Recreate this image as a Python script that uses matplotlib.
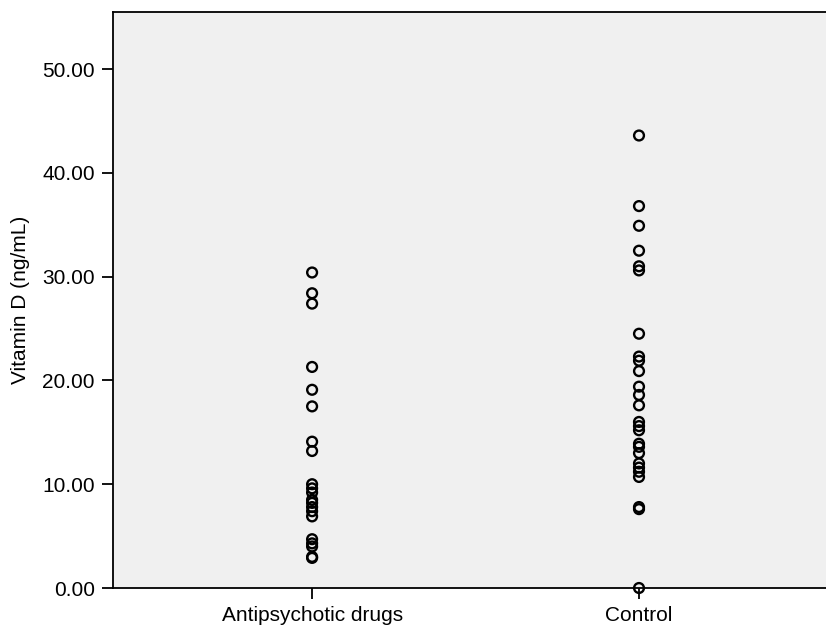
import matplotlib
matplotlib.use("Agg")
import matplotlib.pyplot as plt

categories = ["Antipsychotic drugs", "Control"]
antipsychotic = [30.4, 28.4, 27.4, 21.3, 19.1, 17.5, 14.1, 13.2, 10.0, 9.6, 9.2,
                 8.5, 8.2, 7.8, 7.4, 6.9, 4.7, 4.3, 4.0, 3.0, 2.9]
control = [43.6, 36.8, 34.9, 32.5, 31.0, 30.6, 24.5, 22.3, 21.9, 20.9, 19.4,
           18.6, 17.6, 16.0, 15.6, 15.2, 13.9, 13.6, 13.0, 12.0, 11.6, 11.2,
           10.7, 7.8, 7.6, 0.0]
yticks = [0, 10, 20, 30, 40, 50]

plt.rcParams['font.family'] = ['Liberation Sans', 'DejaVu Sans']

fig = plt.figure(figsize=(8.26, 6.27), dpi=100)
ax = fig.add_axes([113/826, 39/627, (826-113)/826, (588-12)/627])
ax.set_facecolor('#f0f0f0')

for i, vals in enumerate([antipsychotic, control]):
    ax.scatter([i]*len(vals), vals, s=50, facecolors='none', edgecolors='black',
               linewidths=1.7, zorder=3, clip_on=False)

ax.set_xlim(-0.609, 1.572)
ax.set_ylim(0, 55.5)
ax.set_xticks([0, 1])
ax.set_xticklabels(categories, fontsize=15)
ax.set_yticks(yticks)
ax.set_yticklabels([f"{v:.2f}" for v in yticks], fontsize=15)
ax.set_ylabel("Vitamin D (ng/mL)", fontsize=15, labelpad=9)
ax.tick_params(axis='both', direction='out', length=8, width=1.3, color='black')
ax.tick_params(axis='x', pad=5)
ax.tick_params(axis='y', pad=5)
for s in ['left', 'bottom', 'top']:
    ax.spines[s].set_linewidth(1.3)
    ax.spines[s].set_color('black')
ax.spines['right'].set_visible(False)

fig.savefig("out.png", dpi=100, facecolor='white')
